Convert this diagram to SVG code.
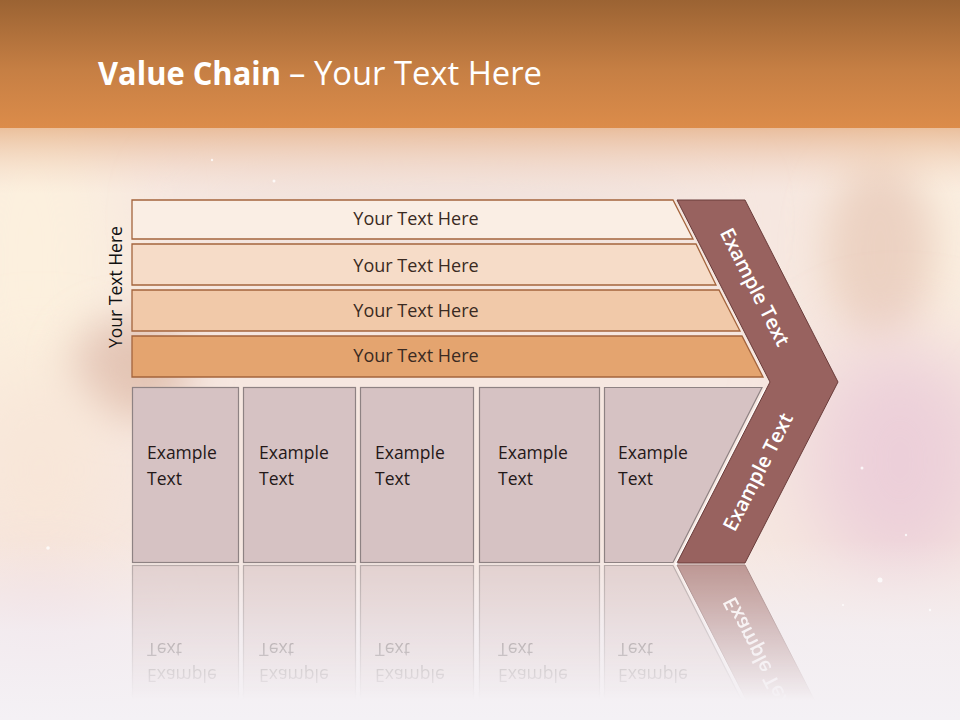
<svg xmlns="http://www.w3.org/2000/svg" xmlns:xlink="http://www.w3.org/1999/xlink" width="960" height="720" viewBox="0 0 960 720">
  <defs>
    <linearGradient id="band" x1="0" y1="0" x2="0" y2="1">
      <stop offset="0" stop-color="#9b6333"/>
      <stop offset="0.55" stop-color="#c67f44"/>
      <stop offset="1" stop-color="#dc8c4a"/>
    </linearGradient>
    <linearGradient id="bandfade" x1="0" y1="0" x2="0" y2="1">
      <stop offset="0" stop-color="#e2a676" stop-opacity="0.7"/>
      <stop offset="1" stop-color="#f0d0c0" stop-opacity="0"/>
    </linearGradient>
    <linearGradient id="bottomfade" x1="0" y1="0" x2="0" y2="1">
      <stop offset="0" stop-color="#f3eef3" stop-opacity="0"/>
      <stop offset="0.5" stop-color="#f3eff4" stop-opacity="0.8"/>
      <stop offset="1" stop-color="#f4f1f5" stop-opacity="1"/>
    </linearGradient>
    <linearGradient id="reflfade" x1="0" y1="565" x2="0" y2="700" gradientUnits="userSpaceOnUse">
      <stop offset="0" stop-color="#fff" stop-opacity="0.6"/>
      <stop offset="0.6" stop-color="#fff" stop-opacity="0.25"/>
      <stop offset="1" stop-color="#fff" stop-opacity="0"/>
    </linearGradient>
    <mask id="reflmask" maskUnits="userSpaceOnUse" x="0" y="560" width="960" height="160">
      <rect x="0" y="560" width="960" height="160" fill="url(#reflfade)"/>
    </mask>
    <filter id="blur40" x="-50%" y="-50%" width="200%" height="200%">
      <feGaussianBlur stdDeviation="40"/>
    </filter>
    <filter id="blur20" x="-50%" y="-50%" width="200%" height="200%">
      <feGaussianBlur stdDeviation="20"/>
    </filter>
    <style>
      .bar { stroke: #a4643c; stroke-width: 1.3; }
      .bartxt { font-family: "Open Sans", "Liberation Sans", sans-serif; font-size: 18px; fill: #3a2a22; text-anchor: middle; }
      .box { fill: #d6c2c3; stroke: #8e8283; stroke-width: 1.2; }
      .boxtxt { font-family: "Open Sans", "Liberation Sans", sans-serif; font-size: 17.5px; fill: #241818; }
      .chev { fill: #98625f; stroke: #6a3c3a; stroke-width: 1; }
      .chevtxt { font-family: "Open Sans", "Liberation Sans", sans-serif; font-size: 20px; font-weight: 600; fill: #ffffff; text-anchor: middle; }
      .title { font-family: "Open Sans", "Liberation Sans", sans-serif; font-size: 32px; fill: #ffffff; }
    </style>
  </defs>

  <!-- background -->
  <g id="background">
    <rect x="0" y="0" width="960" height="720" fill="#f6e7e0"/>
    <ellipse cx="30" cy="260" rx="90" ry="200" fill="#fcf0de" filter="url(#blur40)"/>
    <ellipse cx="930" cy="230" rx="90" ry="140" fill="#fbefe0" filter="url(#blur40)"/>
    <ellipse cx="880" cy="250" rx="55" ry="90" fill="#ecd2c2" filter="url(#blur20)"/>
    <ellipse cx="130" cy="370" rx="60" ry="50" fill="#e2c2b2" filter="url(#blur20)"/>
    <ellipse cx="40" cy="470" rx="70" ry="110" fill="#f8e6d8" filter="url(#blur40)"/>
    <ellipse cx="900" cy="460" rx="90" ry="120" fill="#eccfd9" filter="url(#blur40)"/>
    <ellipse cx="450" cy="220" rx="260" ry="60" fill="#f1e2dc" filter="url(#blur40)"/>
    <ellipse cx="40" cy="650" rx="80" ry="70" fill="#f0d6d8" filter="url(#blur40)"/>
    <rect x="0" y="540" width="960" height="180" fill="url(#bottomfade)"/>
    <rect x="0" y="124" width="960" height="70" fill="url(#bandfade)"/>
    <rect x="0" y="0" width="960" height="128" fill="url(#band)"/>
    <g fill="#ffffff" opacity="0.8">
      <circle cx="274" cy="181" r="1.5"/>
      <circle cx="212" cy="160" r="1.2"/>
      <circle cx="880" cy="580" r="2.5"/>
      <circle cx="862" cy="468" r="1.5"/>
      <circle cx="906" cy="535" r="1.2"/>
      <circle cx="48" cy="548" r="1.8"/>
      <circle cx="930" cy="610" r="1.2"/>
      <circle cx="843" cy="605" r="1"/>
    </g>
  </g>

  <!-- title -->
  <g id="title">
    <text class="title" x="98" y="85" font-weight="700" textLength="183" lengthAdjust="spacingAndGlyphs">Value Chain</text>
    <text class="title" x="289" y="85" textLength="253" lengthAdjust="spacingAndGlyphs">– Your Text Here</text>
  </g>

  <!-- side label -->
  <g id="side-label">
    <text x="122" y="287" transform="rotate(-90 122 287)" font-family="'Open Sans', 'Liberation Sans', sans-serif" font-size="17.5" fill="#111111" text-anchor="middle">Your Text Here</text>
  </g>

  <!-- horizontal bars -->
  <g id="bar1">
    <polygon class="bar" fill="#faeee4" points="132,200 673,200 693,239 132,239"/>
    <text class="bartxt" x="416" y="225">Your Text Here</text>
  </g>
  <g id="bar2">
    <polygon class="bar" fill="#f6dcc8" points="132,244 696,244 716,285 132,285"/>
    <text class="bartxt" x="416" y="272">Your Text Here</text>
  </g>
  <g id="bar3">
    <polygon class="bar" fill="#f1c9a9" points="132,290 719,290 740,331 132,331"/>
    <text class="bartxt" x="416" y="317">Your Text Here</text>
  </g>
  <g id="bar4">
    <polygon class="bar" fill="#e4a46f" points="132,336 742,336 763,377 132,377"/>
    <text class="bartxt" x="416" y="362">Your Text Here</text>
  </g>

  <!-- boxes + chevron (reflected below) -->
  <g id="lower">
    <g id="box1">
      <rect class="box" x="132.5" y="387.5" width="106" height="175"/>
      <text class="boxtxt" x="147" y="459">Example</text>
      <text class="boxtxt" x="147" y="485">Text</text>
    </g>
    <g id="box2">
      <rect class="box" x="243.5" y="387.5" width="112" height="175"/>
      <text class="boxtxt" x="259" y="459">Example</text>
      <text class="boxtxt" x="259" y="485">Text</text>
    </g>
    <g id="box3">
      <rect class="box" x="360.5" y="387.5" width="113" height="175"/>
      <text class="boxtxt" x="375" y="459">Example</text>
      <text class="boxtxt" x="375" y="485">Text</text>
    </g>
    <g id="box4">
      <rect class="box" x="479.5" y="387.5" width="120" height="175"/>
      <text class="boxtxt" x="498" y="459">Example</text>
      <text class="boxtxt" x="498" y="485">Text</text>
    </g>
    <g id="box5">
      <polygon class="box" points="604.5,387.5 762,387.5 673,562.5 604.5,562.5"/>
      <text class="boxtxt" x="618" y="459">Example</text>
      <text class="boxtxt" x="618" y="485">Text</text>
    </g>
    <g id="chevron">
      <polyline points="766,389 676,565" fill="none" stroke="#ffffff" stroke-width="3" stroke-opacity="0.85"/>
      <polygon class="chev" points="677,200 745,200 838,382 745,563 677,563 770,382"/>
      <text class="chevtxt" x="755" y="294" transform="rotate(63 755 287)">Example Text</text>
      <text class="chevtxt" x="758" y="479" transform="rotate(-63 758 472)">Example Text</text>
    </g>
  </g>

  <!-- reflection -->
  <g id="reflection" mask="url(#reflmask)">
    <use xlink:href="#lower" href="#lower" transform="translate(0 1128) scale(1 -1)"/>
  </g>
</svg>
